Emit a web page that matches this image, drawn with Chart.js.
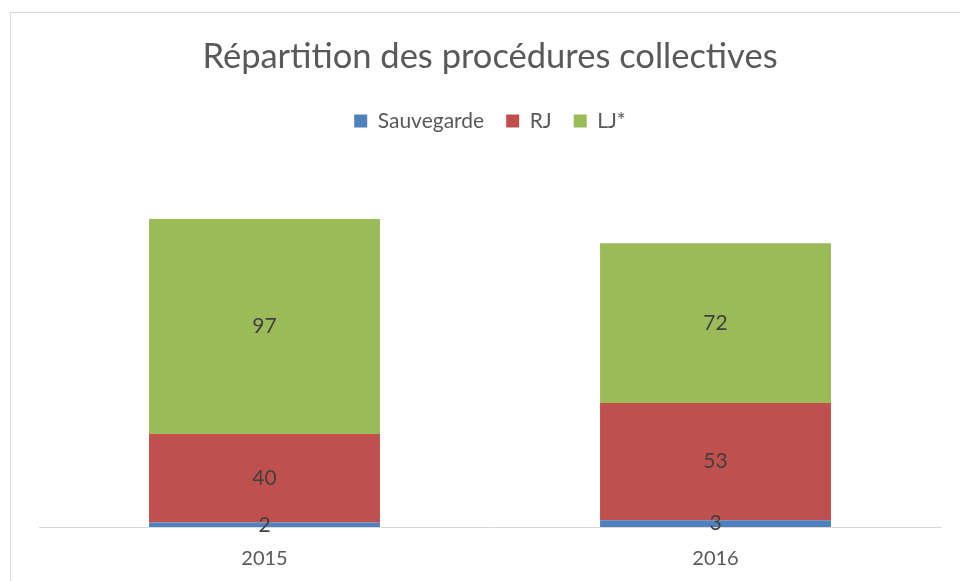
<!DOCTYPE html>
<html>
<head>
<meta charset="utf-8">
<script src="https://cdn.jsdelivr.net/npm/chart.js@4.4.1/dist/chart.umd.min.js"></script>
<style>
  html, body { margin: 0; padding: 0; background: #fff; overflow: hidden; }
  #frame { position: absolute; left: 10px; top: 12px; width: 1000px; height: 700px; border: 1px solid #d9d9d9; }
  #wrap { position: absolute; left: 0; top: 0; width: 960px; height: 581px; }
</style>
</head>
<body>
<div id="frame"></div>
<div id="wrap"><canvas id="procChart"></canvas></div>
<script>
const years = ["2015", "2016"];
const sauvegarde = [2, 3];
const rj = [40, 53];
const lj = [97, 72];

// draws the value in the middle of each stacked segment
const segmentLabels = {
    id: "segmentLabels",
    afterDatasetsDraw(chart) {
        const ctx = chart.ctx;
        ctx.save();
        ctx.font = "21px Lato";
        ctx.fillStyle = "#404040";
        ctx.textAlign = "center";
        ctx.textBaseline = "middle";
        chart.data.datasets.forEach((ds, i) => {
            chart.getDatasetMeta(i).data.forEach((bar, j) => {
                const y = (bar.y + bar.base) / 2;
                ctx.fillText(ds.data[j], bar.x, y);
            });
        });
        ctx.restore();
    }
};

const ctx = document.getElementById("procChart").getContext("2d");
new Chart(ctx, {
    type: "bar",
    data: {
        labels: years,
        datasets: [
            { label: "Sauvegarde", data: sauvegarde, backgroundColor: "#4f81bd" },
            { label: "RJ", data: rj, backgroundColor: "#c0504d" },
            { label: "LJ*", data: lj, backgroundColor: "#9bbb59" }
        ]
    },
    options: {
        responsive: true,
        maintainAspectRatio: false,
        animation: false,
        datasets: { bar: { categoryPercentage: 1, barPercentage: 0.512 } },
        layout: { padding: { left: 39, right: 19, top: 36, bottom: -10 } },
        plugins: {
            legend: {
                display: true,
                labels: {
                    boxWidth: 13,
                    boxHeight: 13,
                    padding: 22,
                    color: "#595959",
                    font: { family: "Lato", size: 21 }
                }
            },
            title: {
                display: true,
                text: "Répartition des procédures collectives",
                color: "#595959",
                font: { family: "Lato", size: 34.5, weight: "normal" },
                padding: { top: 0, bottom: 11 }
            },
            tooltip: { enabled: false }
        },
        scales: {
            x: {
                stacked: true,
                grid: { display: false, drawTicks: false },
                border: { display: true, color: "#d9d9d9", width: 1 },
                ticks: { color: "#595959", font: { family: "Lato", size: 20 }, padding: 20 }
            },
            y: {
                stacked: true,
                display: false,
                min: 0,
                max: 174
            }
        }
    },
    plugins: [segmentLabels]
});
</script>
</body>
</html>
